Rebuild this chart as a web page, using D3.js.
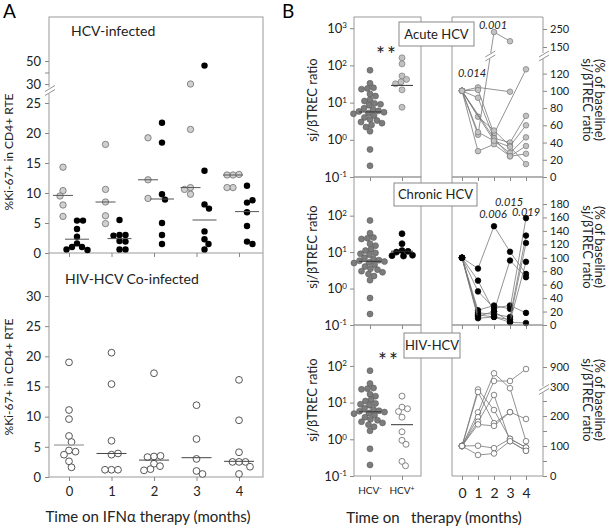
<!DOCTYPE html>
<html>
<head>
<meta charset="utf-8">
<script src="https://cdn.jsdelivr.net/npm/d3@7"></script>
<style>
  body { margin: 0; background: #fff; }
  svg { font-family: Lato, "Open Sans", sans-serif; }
  .tick line { stroke: #888; }
  .domain { display: none; }
</style>
</head>
<body>
<script>
// ---------- data ----------
const months = [0, 1, 2, 3, 4];

// Panel A, HCV-infected (% Ki-67+ in CD4+ RTE)
const hcvGray = [
  [14.3, 10.4, 9.5, 8.0, 6.1],
  [18.1, 10.6, 8.5, 6.2, 4.9],
  [19.2, 12.2, 9.1],
  [30, 20.6, 10.9, 10.6, 9.8],
  [13.0, 13.0, 13.1, 10.9, 10.9]
];
const hcvBlack = [
  [5.4, 5.4, 4.0, 2.7, 1.6, 1.0, 1.0, 0.5, 0.6],
  [5.5, 3.0, 3.0, 2.9, 2.0, 1.9, 0.6, 0.6],
  [21.7, 18.4, 9.8, 8.9, 5.0, 3.0, 1.5],
  [46, 13.7, 8.1, 7.4, 3.6, 2.3, 1.5, 0.6],
  [11.2, 8.4, 8.8, 6.8, 4.5, 1.9, 1.5]
];
const hcvGrayMed = [9.6, 8.5, 12.2, 10.9, 13.0];
const hcvBlackMed = [2.3, 2.4, 9.0, 5.5, 6.9];

// Panel A, HIV-HCV co-infected
const coinf = [
  [19.0, 11.1, 9.6, 6.8, 5.8, 4.4, 4.2, 3.7, 2.6, 1.6],
  [20.6, 15.4, 6.0, 3.7, 3.9, 1.2, 1.2, 1.2],
  [17.2, 3.4, 3.5, 3.3, 2.2, 1.8, 1.3, 1.1],
  [11.9, 6.3, 3.0, 1.0, 0.5],
  [16.1, 9.4, 4.1, 2.5, 2.5, 2.5, 1.7, 0.5]
];
const coinfMed = [5.3, 3.9, 2.8, 3.2, 2.6];

// Panel B, sj/betaTREC ratio
const groups = ["HCV-", "HCV+"];
const ctrlRatio = [74, 33, 25, 24, 23, 17, 15, 12, 11, 9.5, 9, 8.5, 7, 6.5, 6, 5.8, 5.5,
  5.2, 5, 4.5, 4, 3.5, 3.3, 3, 2.8, 2.5, 2.2, 1.7, 0.55, 0.2];
const ctrlMed = 5.6;
const acuteRatio = [160, 110, 52, 42, 36, 32, 22, 7.5];
const acuteMed = 29;
const chronicRatio = [32, 17, 11, 10.5, 10, 8.2, 8, 7.8];
const chronicMed = 10.6;
const hivRatio = [15, 7.5, 6.8, 5.7, 4.0, 1.6, 0.94, 0.73, 0.25, 0.19];
const hivMed = 2.5;

// Panel B, % of baseline per patient, months 0..4
const acuteSeries = [
  [100, 104, null, 99, null],
  [100, 49, 233, 182, null],
  [100, 101, 50, null, 125],
  [100, 92, 45, 40, 71],
  [100, 70, 54, 36, 60],
  [100, 52, 42, 28, 46],
  [100, 30, 38, 24, 36],
  [100, null, 45, 24, 27],
  [100, null, 42, 35, 15]
];
const chronicSeries = [
  [100, 84, 147, 109, 76],
  [100, 66, 20, 96, 71],
  [100, 50, 25, 29, 18],
  [100, 22, 29, 24, 159],
  [100, 18, 16, 12, 133],
  [100, 15, 12, 8, 122],
  [100, 13, 20, 5, 94],
  [100, 10, 12, 4, 3]
];
const hivSeries = [
  [100, 212, 711, 295, 116],
  [100, 196, 480, 480, 840],
  [100, 290, 220, 124, 95],
  [100, 280, 176, 213, 190],
  [100, 181, 270, 116, 84],
  [100, 172, 167, 213, null],
  [100, 101, 93, 124, 95],
  [100, 70, 75, 116, 84]
];

// ---------- helpers ----------
const svg = d3.select("body").append("svg").attr("width", 611).attr("height", 528);

function styleAxis(g, size) {
  g.attr("font-family", null).attr("font-size", size || 12);
  g.selectAll("text").attr("fill", "#222");
}

// simple beeswarm: push circles sideways until they stop overlapping
function dodge(vals, y, r, side) {
  const placed = [];
  return vals.map(v => {
    const py = y(v);
    let dx = 0;
    for (let k = 0; k < 120; k++) {
      const off = k === 0 ? 0 : side * (k % 2 ? 1 : -1) * Math.ceil(k / 2) * 0.5;
      if (placed.every(p => (p.dx - off) ** 2 + (p.y - py) ** 2 >= (2 * r - 0.4) ** 2)) { dx = off; break; }
    }
    const pt = {v: v, y: py, dx: dx};
    placed.push(pt);
    return pt;
  });
}

function slashes(x, y) {
  svg.append("rect").attr("x", x - 5).attr("y", y - 3).attr("width", 10).attr("height", 6).attr("fill", "#fff");
  [-2, 2].forEach(o => {
    svg.append("line")
      .attr("x1", x - 5).attr("y1", y + o + 3).attr("x2", x + 5).attr("y2", y + o - 3)
      .attr("stroke", "#888").attr("stroke-width", 0.9);
  });
}

// ---------- panel A ----------
const xA = d3.scalePoint().domain(months).range([69, 239]);
const yAtop = d3.scaleLinear().domain([0, 26, 30, 50]).range([253, 97, 84, 61]);
const yAbot = d3.scaleLinear().domain([0, 30]).range([477, 296]);

svg.append("text").attr("x", 3).attr("y", 18).attr("font-size", 19).text("A");
svg.append("text").attr("x", 282).attr("y", 18).attr("font-size", 19).text("B");

svg.append("rect").attr("x", 49).attr("y", 17).attr("width", 214).attr("height", 460)
  .attr("fill", "none").attr("stroke", "#999");
svg.append("line").attr("x1", 49).attr("x2", 263).attr("y1", 253).attr("y2", 253).attr("stroke", "#999");

svg.append("g").attr("transform", "translate(49,0)")
  .call(d3.axisLeft(yAtop).tickValues([0, 5, 10, 15, 20, 25, 30, 40, 50]).tickSize(4).tickPadding(4)
    .tickFormat(d => d === 40 ? "" : d))
  .call(g => styleAxis(g, 13));
svg.append("g").attr("transform", "translate(49,0)")
  .call(d3.axisLeft(yAbot).tickValues([0, 5, 10, 15, 20, 25, 30]).tickSize(4).tickPadding(4))
  .call(g => styleAxis(g, 13));
slashes(50, (yAtop(26) + yAtop(30)) / 2);

svg.append("g").attr("transform", "translate(0,253)")
  .call(d3.axisBottom(xA).tickSize(4).tickFormat(""));
svg.append("g").attr("transform", "translate(0,477)")
  .call(d3.axisBottom(xA).tickSize(4).tickPadding(6))
  .call(g => styleAxis(g, 13));

svg.append("text").attr("x", 71).attr("y", 36).attr("font-size", 14).attr("fill", "#222").text("HCV-infected");
svg.append("text").attr("x", 65).attr("y", 284).attr("font-size", 14).attr("fill", "#222").text("HIV-HCV Co-infected");

[152, 377].forEach(cy => {
  svg.append("text").attr("transform", `translate(9,${cy}) rotate(-90)`)
    .attr("text-anchor", "middle").attr("dy", "0.35em").attr("font-size", 12).attr("fill", "#222")
    .text("%Ki-67+ in CD4+ RTE");
});
svg.append("text").attr("x", 148).attr("y", 522).attr("text-anchor", "middle")
  .attr("font-size", 15).attr("fill", "#222").text("Time on IFNα therapy (months)");

months.forEach((m, i) => {
  const gx = xA(m) - 6, bx = xA(m) + 8;
  dodge(hcvGray[i], yAtop, 3.2, -1).forEach(p => {
    svg.append("circle").attr("cx", gx + p.dx).attr("cy", p.y).attr("r", 3.2)
      .attr("fill", "#d0d0d0").attr("stroke", "#6e6e6e").attr("stroke-width", 0.8);
  });
  dodge(hcvBlack[i], yAtop, 3.2, 1).forEach(p => {
    svg.append("circle").attr("cx", bx + p.dx).attr("cy", p.y).attr("r", 3.2).attr("fill", "#000");
  });
  svg.append("line").attr("x1", gx - 10).attr("x2", gx + 10)
    .attr("y1", yAtop(hcvGrayMed[i])).attr("y2", yAtop(hcvGrayMed[i])).attr("stroke", "#555");
  svg.append("line").attr("x1", bx - 12).attr("x2", bx + 12)
    .attr("y1", yAtop(hcvBlackMed[i])).attr("y2", yAtop(hcvBlackMed[i])).attr("stroke", "#555");

  dodge(coinf[i], yAbot, 3.4, 1).forEach(p => {
    svg.append("circle").attr("cx", xA(m) + p.dx).attr("cy", p.y).attr("r", 3.4)
      .attr("fill", "#fff").attr("stroke", "#444").attr("stroke-width", 0.9);
  });
  svg.append("line").attr("x1", xA(m) - 15).attr("x2", xA(m) + 15)
    .attr("y1", yAbot(coinfMed[i])).attr("y2", yAbot(coinfMed[i]))
    .attr("stroke", i === 0 ? "#aaa" : "#444").attr("stroke-width", i === 0 ? 1.4 : 1);
});

// ---------- panel B ----------
const xCat = d3.scalePoint().domain(groups).range([370, 402]);
const xMon = d3.scaleLinear().domain([0, 4]).range([462, 526]);

const rowsB = [
  {label: "Acute HCV", top: 17, bot: 177,
   yl: d3.scaleLog().domain([0.1, 2000]).range([177, 17]), lTicks: [0.1, 1, 10, 100, 1000],
   yr: d3.scaleLinear().domain([0, 130, 150, 250]).range([177, 65, 47, 29]),
   rTicks: [0, 20, 40, 60, 80, 100, 120, 150, 250], rLabels: null, brk: [130, 150], lineBreak: true,
   ratios: acuteRatio, med: acuteMed, series: acuteSeries,
   fill: "#c2c2c2", stroke: "#7a7a7a", box: [399, 22, 75, 24], stars: [387, 62], titleY: 100},
  {label: "Chronic HCV", top: 177, bot: 325,
   yl: d3.scaleLog().domain([0.1, 1150]).range([325, 177]), lTicks: [0.1, 1, 10, 100],
   yr: d3.scaleLinear().domain([0, 180]).range([325, 204]),
   rTicks: [0, 20, 40, 60, 80, 100, 120, 140, 160, 180], rLabels: null, brk: null,
   ratios: chronicRatio, med: chronicMed, series: chronicSeries,
   fill: "#000", stroke: "#000", box: [394, 183, 83, 23], stars: null, titleY: 247},
  {label: "HIV-HCV", top: 325, bot: 476,
   yl: d3.scaleLog().domain([0.1, 1300]).range([476, 325]), lTicks: [0.1, 1, 10, 100],
   yr: d3.scaleLinear().domain([0, 280, 300, 900]).range([476, 392, 387, 367]),
   rTicks: [0, 50, 100, 150, 200, 250, 300, 900], rLabels: [0, 100, 200, 300, 900], brk: [280, 300],
   ratios: hivRatio, med: hivMed, series: hivSeries,
   fill: "#fff", stroke: "#555", box: [404, 333, 56, 25], stars: [389, 368], titleY: 400}
];

svg.append("line").attr("x1", 543).attr("x2", 543).attr("y1", 17).attr("y2", 476).attr("stroke", "#999");

rowsB.forEach((row, ri) => {
  const h = row.bot - row.top;
  svg.append("rect").attr("x", 354).attr("y", row.top).attr("width", 67).attr("height", h)
    .attr("fill", "none").attr("stroke", "#999");
  svg.append("path").attr("d", `M543,${row.top}H452V${row.bot}H543`)
    .attr("fill", "none").attr("stroke", "#999");

  // left log axis
  svg.append("g").attr("transform", "translate(354,0)")
    .call(d3.axisLeft(row.yl).tickValues(row.lTicks).tickSize(4).tickPadding(3).tickFormat(() => ""))
    .call(g => {
      styleAxis(g, 13);
      g.selectAll(".tick text").text("10").append("tspan")
        .attr("dy", "-0.55em").attr("font-size", 8).text(d => Math.round(Math.log10(d)));
    });

  // right % axis
  svg.append("g").attr("transform", "translate(543,0)")
    .call(d3.axisRight(row.yr).tickValues(row.rTicks).tickSize(4).tickPadding(3)
      .tickFormat(d => (!row.rLabels || row.rLabels.includes(d)) ? d : ""))
    .call(g => styleAxis(g, 11));
  if (row.brk) slashes(544, (row.yr(row.brk[0]) + row.yr(row.brk[1])) / 2);

  // bottom ticks
  const last = ri === rowsB.length - 1;
  svg.append("g").attr("transform", `translate(0,${row.bot})`)
    .call(d3.axisBottom(xCat).tickSize(4).tickFormat(""));
  svg.append("g").attr("transform", `translate(0,${row.bot})`)
    .call(d3.axisBottom(xMon).tickValues(months).tickSize(4).tickPadding(8).tickFormat(last ? d => d : ""))
    .call(g => styleAxis(g, 14));

  // scatter of ratios
  dodge(ctrlRatio, row.yl, 3, 1).forEach(p => {
    svg.append("circle").attr("cx", xCat("HCV-") + p.dx).attr("cy", p.y).attr("r", 3)
      .attr("fill", "#7c7c7c").attr("stroke", "#5a5a5a").attr("stroke-width", 0.6);
  });
  dodge(row.ratios, row.yl, 3, 1).forEach(p => {
    svg.append("circle").attr("cx", xCat("HCV+") + p.dx).attr("cy", p.y).attr("r", 3)
      .attr("fill", row.fill).attr("stroke", row.stroke).attr("stroke-width", 0.7);
  });
  [["HCV-", ctrlMed], ["HCV+", row.med]].forEach(([g, m]) => {
    svg.append("line").attr("x1", xCat(g) - 11).attr("x2", xCat(g) + 11)
      .attr("y1", row.yl(m)).attr("y2", row.yl(m)).attr("stroke", "#333");
  });

  // per-patient lines
  row.series.forEach(s => {
    const pts = s.map((v, i) => [i, v]).filter(d => d[1] !== null);
    svg.append("path")
      .attr("d", d3.line().x(d => xMon(d[0])).y(d => row.yr(d[1]))(pts))
      .attr("fill", "none").attr("stroke", "#777").attr("stroke-width", 0.8);
    if (row.lineBreak) {
      for (let k = 1; k < pts.length; k++) {
        const a = pts[k - 1], b = pts[k];
        if ((a[1] < row.brk[0]) !== (b[1] < row.brk[0]) && Math.max(a[1], b[1]) > row.brk[1]) {
          const yb = (row.yr(row.brk[0]) + row.yr(row.brk[1])) / 2;
          const ya = row.yr(a[1]), yc = row.yr(b[1]);
          const t = (yb - ya) / (yc - ya);
          slashes(xMon(a[0]) + t * (xMon(b[0]) - xMon(a[0])), yb);
        }
      }
    }
    pts.forEach(d => {
      svg.append("circle").attr("cx", xMon(d[0])).attr("cy", row.yr(d[1])).attr("r", 2.8)
        .attr("fill", row.fill).attr("stroke", row.stroke).attr("stroke-width", 0.7);
    });
  });

  // label box
  const [bx, by, bw, bh] = row.box;
  svg.append("rect").attr("x", bx).attr("y", by).attr("width", bw).attr("height", bh)
    .attr("fill", "#fff").attr("stroke", "#888");
  svg.append("text").attr("x", bx + bw / 2).attr("y", by + bh / 2).attr("dy", "0.35em")
    .attr("text-anchor", "middle").attr("font-size", 13).attr("fill", "#222").text(row.label);

  if (row.stars) {
    svg.append("text").attr("x", row.stars[0]).attr("y", row.stars[1]).attr("text-anchor", "middle")
      .attr("font-size", 21).attr("letter-spacing", 2).attr("fill", "#222").text("**");
  }

  svg.append("text").attr("transform", `translate(312,${row.titleY}) rotate(-90)`)
    .attr("text-anchor", "middle").attr("dy", "0.35em").attr("font-size", 13).attr("fill", "#222")
    .text("sj/βTREC ratio");
  svg.append("text").attr("transform", `translate(588,${row.titleY}) rotate(90)`)
    .attr("text-anchor", "middle").attr("dy", "0.35em").attr("font-size", 13).attr("fill", "#222")
    .text("sj/βTREC ratio");
  svg.append("text").attr("transform", `translate(600,${row.titleY}) rotate(90)`)
    .attr("text-anchor", "middle").attr("dy", "0.35em").attr("font-size", 13).attr("fill", "#222")
    .text("(% of baseline)");
});

// p-values
const pLabels = [["0.001", 493, 25], ["0.014", 472, 73], ["0.006", 493, 214], ["0.015", 509, 202], ["0.019", 526, 212]];
pLabels.forEach(([t, x, y]) => {
  svg.append("text").attr("x", x).attr("y", y).attr("dy", "0.35em").attr("text-anchor", "middle")
    .attr("font-size", 11).attr("font-style", "italic").attr("fill", "#222").text(t);
});

// group labels under B left
groups.forEach(g => {
  const t = svg.append("text").attr("x", xCat(g)).attr("y", 494).attr("text-anchor", "middle")
    .attr("font-size", 10).attr("fill", "#222").text("HCV");
  t.append("tspan").attr("dy", "-0.5em").attr("font-size", 7).text(g.slice(3));
});

svg.append("text").attr("x", 434).attr("y", 523).attr("text-anchor", "middle")
  .attr("font-size", 15).attr("fill", "#222")
  .style("white-space", "pre").text("Time on   therapy (months)");
</script>
</body>
</html>
